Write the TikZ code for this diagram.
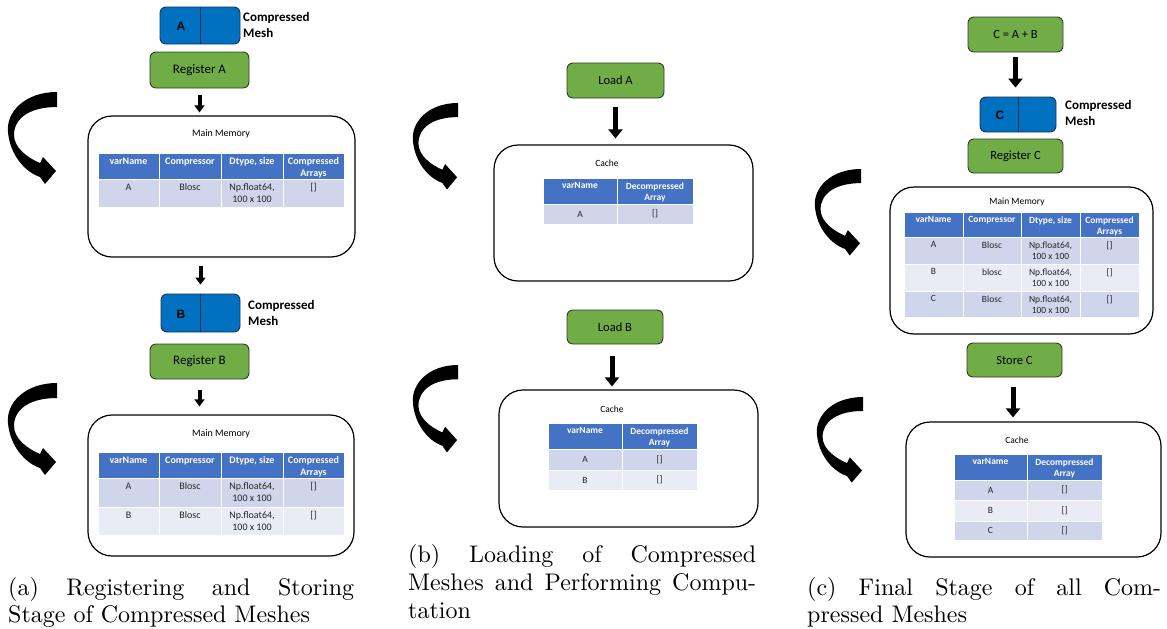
\documentclass[tikz,border=0pt]{standalone}
\usepackage{fontspec}
\newfontfamily\carl{Carlito}
\newfontfamily\libs{Liberation Sans}
\newfontfamily\capfont[Extension=.otf]{lmroman10-regular}
\usetikzlibrary{arrows.meta}
\definecolor{grn}{HTML}{70AD47}
\definecolor{grnline}{HTML}{2E3B26}
\definecolor{meshblue}{HTML}{0070C0}
\definecolor{meshline}{HTML}{1F3050}
\definecolor{hdr}{HTML}{4472C4}
\definecolor{rowa}{HTML}{CFD5EA}
\definecolor{rowb}{HTML}{E9EBF5}
\newcommand{\tabsize}{\fontsize{10}{12}\selectfont}
\newcommand{\hcell}[6]{\filldraw[fill=hdr,draw=white,line width=0.8pt] (#2,#3) rectangle (#4,#5);
  \node[hdrtxt] (#1) at ({(#2+#4)/2},{#3+4.5}) {#6};}
\newcommand{\dcell}[7]{\filldraw[fill=#6,draw=white,line width=0.8pt] (#2,#3) rectangle (#4,#5);
  \node[datatxt] (#1) at ({(#2+#4)/2},{#3+4.5}) {#7};}
\newcommand{\ccell}[7]{\filldraw[fill=#6,draw=white,line width=0.8pt] (#2,#3) rectangle (#4,#5);
  \node[datatxt,anchor=center] (#1) at ({(#2+#4)/2},{(#3+#5)/2}) {#7};}
\tikzset{
  greenbox/.style={draw=grnline, line width=0.9pt, fill=grn, rounded corners=6pt, inner sep=0pt, font=\carl\fontsize{12.5}{15}\selectfont},
  meshbox/.style={draw=meshline, line width=0.9pt, fill=meshblue, rounded corners=6pt, inner sep=0pt},
  memorybox/.style={draw=black, line width=1.2pt, rounded corners=24pt, inner sep=0pt},
  boxtitle/.style={font=\carl\fontsize{10}{12}\selectfont, inner sep=0pt},
  meshletter/.style={font=\libs\bfseries\fontsize{12}{14}\selectfont, inner sep=0pt},
  meshlabel/.style={font=\carl\bfseries\fontsize{13}{15.5}\selectfont, align=left, inner sep=0pt, anchor=west},
  bigdown/.style={line width=5pt, -{Triangle[width=14pt,length=9pt]}},
  smalldown/.style={line width=4pt, -{Triangle[width=10pt,length=7pt]}},
  hdrtxt/.style={font=\carl\bfseries\tabsize, text=white, align=center, inner sep=0pt, anchor=north},
  datatxt/.style={font=\carl\tabsize, text=black!85, align=center, inner sep=0pt, anchor=north},
  captxt/.style={font=\capfont\fontsize{24}{28}\selectfont, inner sep=0pt, anchor=base west},
  curvarrow/.pic={\fill[black] (0,0) .. controls (-32,0) and (-51,20) .. (-49,40)
      .. controls (-47,63) and (-32,80) .. (-17,85) -- (-12,92) -- (-1,79) -- (-14,65) -- (-17,71)
      .. controls (-29,66) and (-43,56) .. (-43,43) .. controls (-43,26) and (-27,15) .. (0,15) -- cycle;}
}
\begin{document}
\begin{tikzpicture}[x=1pt,y=-1pt]
\useasboundingbox (0,0) rectangle (1167,629);
% ================= panel (a)
\node[meshbox, minimum width=80pt, minimum height=37pt] (meshA) at (200,25.5) {};
\draw[meshline, line width=0.9pt] (meshA.north) -- (meshA.south);
\node[meshletter] (meshAl) at (181,26) {A};
\node[meshlabel] (meshAt) at (243,25) {Compressed\\Mesh};
\node[greenbox, minimum width=99pt, minimum height=36pt, font=\carl\fontsize{13}{15}\selectfont] (regA) at (199.5,70) {Register A};
\node[memorybox, minimum width=267pt, minimum height=141pt] (memA1) at (221.5,186.5) {};
\node[boxtitle] (memA1t) at (221,134) {Main Memory};
\draw[smalldown, shorten <=7pt, shorten >=3pt] (regA.south) -- (regA.south |- memA1.north);
\hcell{a1h1}{98}{153}{159}{179}{varName}
\hcell{a1h2}{159}{153}{221}{179}{Compressor}
\hcell{a1h3}{221}{153}{283}{179}{Dtype, size}
\hcell{a1h4}{283}{153}{344}{179}{Compressed\\Arrays}
\dcell{a1r1}{98}{179}{159}{207}{rowa}{A}
\dcell{a1r2}{159}{179}{221}{207}{rowa}{Blosc}
\dcell{a1r3}{221}{179}{283}{207}{rowa}{Np.float64,\\100 x 100}
\dcell{a1r4}{283}{179}{344}{207}{rowa}{[]}
\pic at (57,92) {curvarrow};

\node[meshbox, minimum width=79pt, minimum height=38pt] (meshB) at (200.5,313) {};
\draw[meshline, line width=0.9pt] (meshB.north) -- (meshB.south);
\node[meshletter] (meshBl) at (181,314) {B};
\node[meshlabel] (meshBt) at (248,313) {Compressed\\Mesh};
\draw[smalldown, shorten <=8pt, shorten >=9pt] (meshB.north |- memA1.south) -- (meshB.north);
\node[greenbox, minimum width=99pt, minimum height=35pt, font=\carl\fontsize{13}{15}\selectfont] (regB) at (199.5,361.5) {Register B};
\node[memorybox, minimum width=266pt, minimum height=141pt] (memA2) at (221,485.5) {};
\node[boxtitle] (memA2t) at (221,434) {Main Memory};
\draw[smalldown, shorten <=11pt, shorten >=8pt] (regB.south) -- (regB.south |- memA2.north);
\hcell{a2h1}{98}{452}{159}{478}{varName}
\hcell{a2h2}{159}{452}{221}{478}{Compressor}
\hcell{a2h3}{221}{452}{283}{478}{Dtype, size}
\hcell{a2h4}{283}{452}{344}{478}{Compressed\\Arrays}
\dcell{a2r1}{98}{478}{159}{507}{rowa}{A}
\dcell{a2r2}{159}{478}{221}{507}{rowa}{Blosc}
\dcell{a2r3}{221}{478}{283}{507}{rowa}{Np.float64,\\100 x 100}
\dcell{a2r4}{283}{478}{344}{507}{rowa}{[]}
\dcell{a2s1}{98}{507}{159}{535}{rowb}{B}
\dcell{a2s2}{159}{507}{221}{535}{rowb}{Blosc}
\dcell{a2s3}{221}{507}{283}{535}{rowb}{Np.float64,\\100 x 100}
\dcell{a2s4}{283}{507}{344}{535}{rowb}{[]}
\pic at (57,383) {curvarrow};

% ================= panel (b)
\renewcommand{\tabsize}{\fontsize{9.5}{11.5}\selectfont}
\node[greenbox, minimum width=97pt, minimum height=35pt] (loadA) at (615.5,80.5) {Load A};
\node[memorybox, minimum width=259pt, minimum height=136pt] (cacheB1) at (623.5,213) {};
\node[boxtitle, font=\carl\fontsize{9.5}{11}\selectfont] (cacheB1t) at (607,163) {Cache};
\draw[bigdown, shorten <=9pt, shorten >=6pt] (loadA.south) -- (loadA.south |- cacheB1.north);
\hcell{b1h1}{543}{178}{617}{204}{varName}
\hcell{b1h2}{617}{178}{693}{204}{Decompressed\\Array}
\ccell{b1r1}{543}{204}{617}{224}{rowa}{A}
\ccell{b1r2}{617}{204}{693}{224}{rowa}{[]}
\pic[xscale=0.92, yscale=0.94] at (458,103) {curvarrow};

\node[greenbox, minimum width=96pt, minimum height=34pt] (loadB) at (615,327) {Load B};
\node[memorybox, minimum width=259pt, minimum height=137pt] (cacheB2) at (628.5,458.5) {};
\node[boxtitle, font=\carl\fontsize{9.5}{11}\selectfont] (cacheB2t) at (612,409) {Cache};
\draw[bigdown, shorten <=12pt, shorten >=3pt] ([xshift=-3pt]loadB.south) -- ([xshift=-3pt]loadB.south |- cacheB2.north);
\hcell{b2h1}{548}{423}{622}{449}{varName}
\hcell{b2h2}{622}{423}{697}{449}{Decompressed\\Array}
\ccell{b2r1}{548}{449}{622}{470}{rowa}{A}
\ccell{b2r2}{622}{449}{697}{470}{rowa}{[]}
\ccell{b2s1}{548}{470}{622}{490}{rowb}{B}
\ccell{b2s2}{622}{470}{697}{490}{rowb}{[]}
\pic[xscale=0.92, yscale=0.95] at (458,365) {curvarrow};

% ================= panel (c)
\node[greenbox, minimum width=95pt, minimum height=35pt] (cab) at (1015.5,34.5) {C = A + B};
\node[meshbox, minimum width=76pt, minimum height=35pt] (meshC) at (1018,114.5) {};
\draw[meshline, line width=0.9pt] (meshC.north) -- (meshC.south);
\node[meshletter] (meshCl) at (1000,115) {C};
\node[meshlabel] (meshCt) at (1065,113) {Compressed\\Mesh};
\draw[bigdown, shorten <=5pt, shorten >=9pt] (cab.south) -- (cab.south |- meshC.north);
\node[greenbox, minimum width=95pt, minimum height=34pt] (regC) at (1015.5,156) {Register C};
\node[memorybox, minimum width=263pt, minimum height=147pt] (memC) at (1021.5,260.5) {};
\node[boxtitle, font=\carl\fontsize{9.5}{11}\selectfont] (memCt) at (1017,202) {Main Memory};
\hcell{c1h1}{904}{212}{963}{237}{varName}
\hcell{c1h2}{963}{212}{1021}{237}{Compressor}
\hcell{c1h3}{1021}{212}{1080}{237}{Dtype, size}
\hcell{c1h4}{1080}{212}{1139}{237}{Compressed\\Arrays}
\dcell{c1r1}{904}{237}{963}{264}{rowa}{A}
\dcell{c1r2}{963}{237}{1021}{264}{rowa}{Blosc}
\dcell{c1r3}{1021}{237}{1080}{264}{rowa}{Np.float64,\\100 x 100}
\dcell{c1r4}{1080}{237}{1139}{264}{rowa}{[]}
\dcell{c1s1}{904}{264}{963}{291}{rowb}{B}
\dcell{c1s2}{963}{264}{1021}{291}{rowb}{blosc}
\dcell{c1s3}{1021}{264}{1080}{291}{rowb}{Np.float64,\\100 x 100}
\dcell{c1s4}{1080}{264}{1139}{291}{rowb}{[]}
\dcell{c1t1}{904}{291}{963}{317}{rowa}{C}
\dcell{c1t2}{963}{291}{1021}{317}{rowa}{Blosc}
\dcell{c1t3}{1021}{291}{1080}{317}{rowa}{Np.float64,\\100 x 100}
\dcell{c1t4}{1080}{291}{1139}{317}{rowa}{[]}
\pic[xscale=0.94, yscale=0.94] at (861,169) {curvarrow};

\node[greenbox, minimum width=95pt, minimum height=34pt] (storeC) at (1014.5,360) {Store C};
\node[memorybox, minimum width=255pt, minimum height=135pt] (cacheC) at (1033.5,489.5) {};
\node[boxtitle, font=\carl\fontsize{9.5}{11}\selectfont] (cacheCt) at (1017,440) {Cache};
\draw[bigdown, shorten <=10pt, shorten >=4pt] ([xshift=-1.5pt]storeC.south) -- ([xshift=-1.5pt]storeC.south |- cacheC.north);
\hcell{c2h1}{954}{454}{1027}{480}{varName}
\hcell{c2h2}{1027}{454}{1102}{480}{Decompressed\\Array}
\ccell{c2r1}{954}{480}{1027}{500}{rowa}{A}
\ccell{c2r2}{1027}{480}{1102}{500}{rowa}{[]}
\ccell{c2s1}{954}{500}{1027}{521}{rowb}{B}
\ccell{c2s2}{1027}{500}{1102}{521}{rowb}{[]}
\ccell{c2t1}{954}{521}{1027}{540}{rowa}{C}
\ccell{c2t2}{1027}{521}{1102}{540}{rowa}{[]}
\pic[xscale=0.94, yscale=0.93] at (863,397) {curvarrow};

% ================= captions
\node[captxt] (capa1) at (8,595) {\makebox[346pt][s]{(a) Registering and Storing}};
\node[captxt] (capa2) at (8,622) {Stage of Compressed Meshes};
\node[captxt] (capb1) at (408,562) {\makebox[348pt][s]{(b) Loading of Compressed}};
\node[captxt] (capb2) at (408,590) {\makebox[348pt][s]{Meshes and Performing Compu-}};
\node[captxt] (capb3) at (408,618) {tation};
\node[captxt] (capc1) at (807,595) {\makebox[354pt][s]{(c) Final Stage of all Com-}};
\node[captxt] (capc2) at (807,622) {pressed Meshes};
\end{tikzpicture}
\end{document}
